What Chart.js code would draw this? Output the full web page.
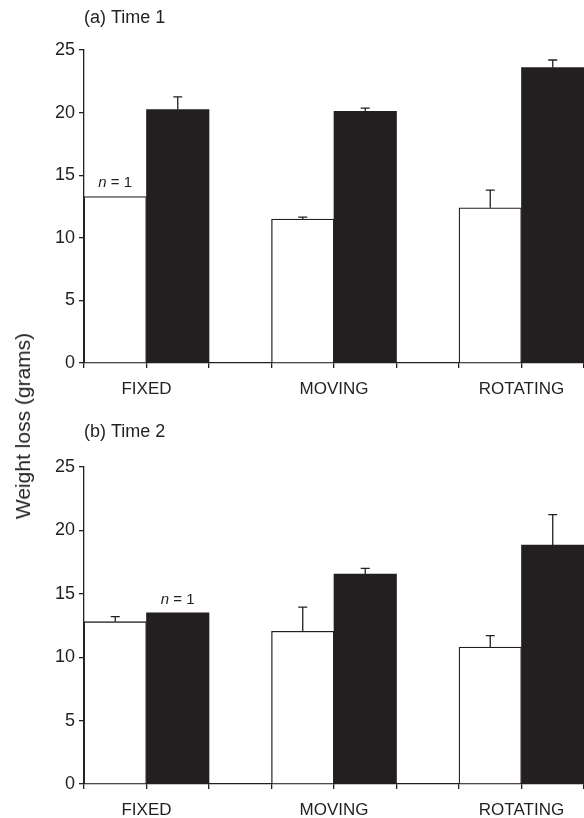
<!DOCTYPE html>
<html>
<head>
<meta charset="utf-8">
<script src="https://cdn.jsdelivr.net/npm/chart.js@4.4.1/dist/chart.umd.min.js"></script>
<style>
  html, body { margin: 0; padding: 0; background: #fff; width: 584px; height: 818px; overflow: hidden; }
  .panel { position: absolute; left: 0; }
  #p1 { top: 0; }
  #p2 { top: 418px; }
  #ytitle {
    position: absolute; left: 23px; top: 426px;
    transform: translate(-50%, -50%) rotate(-90deg);
    font: 21px "Liberation Sans", Arial, sans-serif; color: #231f20; white-space: nowrap;
  }
</style>
</head>
<body>
<div class="panel" id="p1"><canvas id="c1" width="584" height="410"></canvas></div>
<div class="panel" id="p2"><canvas id="c2" width="584" height="400"></canvas></div>
<div id="ytitle">Weight loss (grams)</div>
<script>
// ---- data ----
const categories = ['FIXED', 'MOVING', 'ROTATING'];
const yTickValues = [0, 5, 10, 15, 20, 25];

const time1Open = [13.3, 11.5, 12.4];
const time1OpenErr = [null, 0.15, 1.4];
const time1Filled = [20.25, 20.1, 23.6];
const time1FilledErr = [1.0, 0.25, 0.6];

const time2Open = [12.8, 12.05, 10.8];
const time2OpenErr = [0.4, 1.9, 0.9];
const time2Filled = [13.5, 16.55, 18.85];
const time2FilledErr = [null, 0.45, 2.4];

const panelTitles = ['(a) Time 1', '(b) Time 2'];
const nNotes = [{ series: 0, category: 0, text: '1' }, { series: 1, category: 0, text: '1' }];

// ---- helpers ----
const INK = '#231f20';
const FONT = '"Liberation Sans", Arial, sans-serif';
const slot = i => 1 + 3 * i;              // category centre on the index axis
const xMax = 3 * categories.length - 1;

function toPoints(values) { return values.map((v, i) => ({ x: slot(i), y: v })); }

const panelPlugin = {
  id: 'panelDecor',
  afterDatasetsDraw(chart, args, opts) {
    const ctx = chart.ctx;
    const y = chart.scales.y;
    // error bars (upper only)
    chart.data.datasets.forEach((ds, di) => {
      const meta = chart.getDatasetMeta(di);
      meta.data.forEach((bar, i) => {
        const e = ds.errors[i];
        if (e == null) return;
        const top = y.getPixelForValue(ds.data[i].y + e);
        ctx.save();
        ctx.strokeStyle = INK;
        ctx.lineWidth = 1.3;
        ctx.beginPath();
        ctx.moveTo(bar.x, bar.y);
        ctx.lineTo(bar.x, top);
        ctx.moveTo(bar.x - 4.5, top);
        ctx.lineTo(bar.x + 4.5, top);
        ctx.stroke();
        ctx.restore();
      });
    });
    // n = 1 note
    const note = opts.note;
    if (note) {
      const bar = chart.getDatasetMeta(note.series).data[note.category];
      ctx.save();
      ctx.fillStyle = INK;
      ctx.textBaseline = 'alphabetic';
      const f1 = 'italic 15px ' + FONT, f2 = '15px ' + FONT;
      ctx.font = f1; const w1 = ctx.measureText('n').width;
      ctx.font = f2; const rest = ' = ' + note.text; const w2 = ctx.measureText(rest).width;
      const x0 = bar.x - (w1 + w2) / 2;
      const yb = bar.y - 9;
      ctx.font = f1; ctx.fillText('n', x0, yb);
      ctx.font = f2; ctx.fillText(rest, x0 + w1, yb);
      ctx.restore();
    }
    // panel title
    if (opts.title) {
      ctx.save();
      ctx.fillStyle = INK;
      ctx.font = '18px ' + FONT;
      ctx.textBaseline = 'middle';
      ctx.textAlign = 'left';
      ctx.fillText(opts.title, chart.chartArea.left, opts.titleY);
      ctx.restore();
    }
  }
};

function makeChart(canvasId, open, openErr, filled, filledErr, title, titleY, note, padTop, xAxisHeight) {
  return new Chart(document.getElementById(canvasId), {
    type: 'bar',
    data: {
      datasets: [
        { data: toPoints(open), errors: openErr, backgroundColor: '#ffffff', borderColor: INK, borderWidth: 1.3 },
        { data: toPoints(filled), errors: filledErr, backgroundColor: INK, borderColor: INK, borderWidth: 0 }
      ]
    },
    options: {
      responsive: false,
      animation: false,
      devicePixelRatio: 1,
      barThickness: 'flex',
      categoryPercentage: 2 / 3,
      barPercentage: 1,
      layout: { padding: { top: padTop, left: 0, right: 0, bottom: 0 } },
      plugins: {
        legend: { display: false },
        tooltip: { enabled: false },
        panelDecor: { title: title, titleY: titleY, note: note }
      },
      scales: {
        x: {
          type: 'linear',
          min: 0, max: xMax,
          offset: false,
          grid: { offset: false, drawOnChartArea: false, drawTicks: true, tickLength: 5, color: INK, lineWidth: 1.3 },
          border: { display: true, color: INK, width: 1.3 },
          ticks: {
            stepSize: 1, autoSkip: false, maxRotation: 0, minRotation: 0, padding: 11,
            color: INK, font: { family: FONT, size: 17 },
            callback: v => { const i = categories.findIndex((c, k) => slot(k) === v); return i >= 0 ? categories[i] : ''; }
          },
          afterFit: s => { s.height = xAxisHeight; s.paddingLeft = 0; s.paddingRight = 0; }
        },
        y: {
          type: 'linear',
          min: 0, max: 25,
          grid: { drawOnChartArea: false, drawTicks: true, tickLength: 5, color: INK, lineWidth: 1.3 },
          border: { display: true, color: INK, width: 1.3 },
          afterBuildTicks: s => { s.ticks = yTickValues.map(v => ({ value: v })); },
          ticks: { padding: 4, color: INK, font: { family: FONT, size: 18 } },
          afterFit: s => { s.width = 84; }
        }
      }
    },
    plugins: [panelPlugin]
  });
}

makeChart('c1', time1Open, time1OpenErr, time1Filled, time1FilledErr, panelTitles[0], 18, nNotes[0], 50, 47);
makeChart('c2', time2Open, time2OpenErr, time2Filled, time2FilledErr, panelTitles[1], 14, nNotes[1], 49, 34);
</script>
</body>
</html>
